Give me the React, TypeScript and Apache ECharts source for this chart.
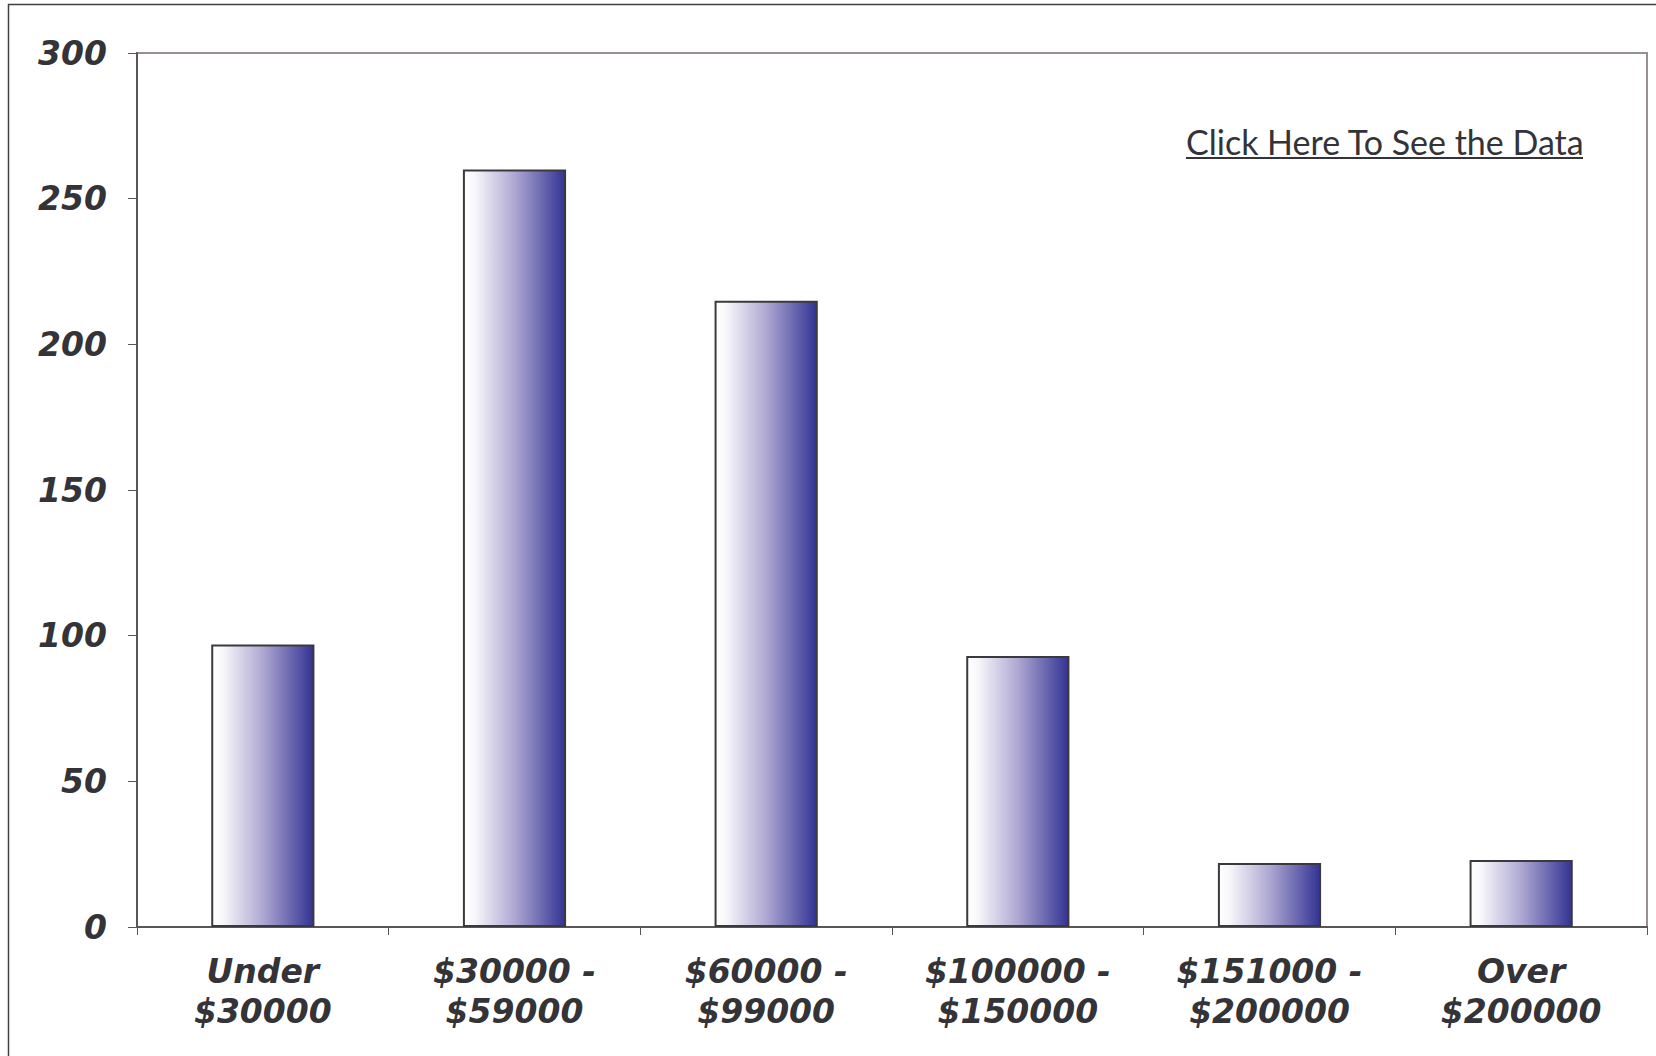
import React, { useEffect, useRef } from "react";
import * as echarts from "echarts";

const categories = [
  "Under\n$30000",
  "$30000 -\n$59000",
  "$60000 -\n$99000",
  "$100000 -\n$150000",
  "$151000 -\n$200000",
  "Over\n$200000",
];
const values = [97, 260, 215, 93, 22, 23];
const yTicks = { min: 0, max: 300, interval: 50 };
const linkText = "Click Here To See the Data";

export default function App() {
  const ref = useRef<HTMLDivElement>(null);
  useEffect(() => {
    if (!ref.current) return;
    const chart = echarts.init(ref.current, undefined, { renderer: "svg" });
    const labelFont = {
      fontFamily: "DejaVu Sans",
      fontWeight: "bold" as const,
      fontStyle: "italic" as const,
      fontSize: 33,
      color: "#333338",
    };
    chart.setOption({
      animation: false,
      backgroundColor: "#ffffff",
      grid: {
        left: 137,
        top: 53,
        right: 9,
        bottom: 129,
        show: true,
        borderColor: "#9a8e8e",
        borderWidth: 2,
        backgroundColor: "transparent",
      },
      xAxis: {
        type: "category",
        data: categories,
        axisLine: { show: true, lineStyle: { color: "#5a5656", width: 2 } },
        axisTick: { show: true, length: 8, lineStyle: { color: "#5a5656", width: 1 } },
        axisLabel: { ...labelFont, margin: 24, lineHeight: 40 },
        splitLine: { show: false },
      },
      yAxis: {
        type: "value",
        min: yTicks.min,
        max: yTicks.max,
        interval: yTicks.interval,
        axisLine: { show: true, lineStyle: { color: "#5a5656", width: 2 } },
        axisTick: { show: true, length: 9, lineStyle: { color: "#5a5656", width: 1 } },
        axisLabel: { ...labelFont, margin: 30 },
        splitLine: { show: false },
      },
      series: [
        {
          type: "bar",
          data: values,
          barWidth: "41%",
          itemStyle: {
            color: new echarts.graphic.LinearGradient(0, 0, 1, 0, [
              { offset: 0, color: "#ffffff" },
              { offset: 0.1, color: "#f8f8fb" },
              { offset: 0.5, color: "#aea8d2" },
              { offset: 1, color: "#333394" },
            ]),
            borderColor: "#3a3a3e",
            borderWidth: 2,
          },
        },
      ],
      graphic: [
        {
          type: "rect",
          shape: { x: 8.5, y: 4.5, width: 1700, height: 1100 },
          style: { fill: "none", stroke: "#404040", lineWidth: 1.5 },
          silent: true,
        },
        {
          type: "text",
          x: 1186,
          y: 141,
          style: {
            text: linkText,
            font: "normal 34px Lato",
            fill: "#333338",
            align: "left",
            verticalAlign: "middle",
          },
        },
        {
          type: "line",
          shape: { x1: 1186, y1: 158, x2: 1583, y2: 158 },
          style: { stroke: "#333338", lineWidth: 2 },
        },
      ],
    });
    return () => chart.dispose();
  }, []);
  return (
    <div
      ref={ref}
      style={{ position: "absolute", left: 0, top: 0, width: 1656, height: 1056 }}
    />
  );
}
